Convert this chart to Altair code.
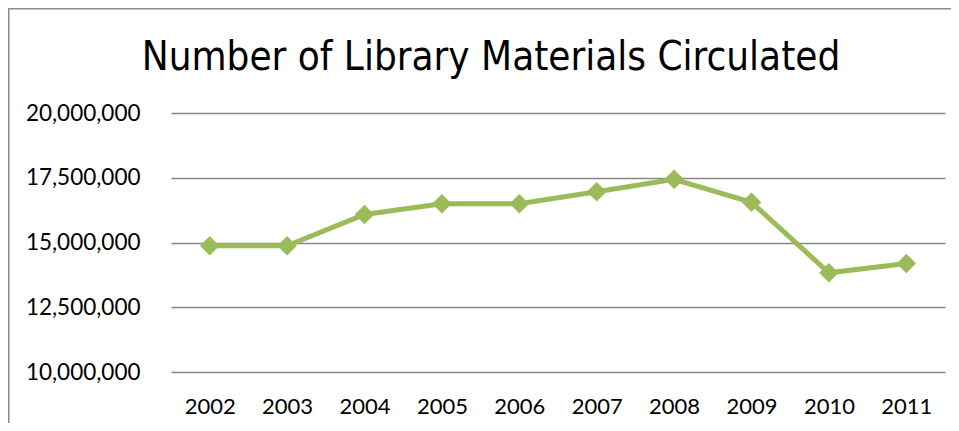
import altair as alt
import pandas as pd

years = ["2002", "2003", "2004", "2005", "2006", "2007", "2008", "2009", "2010", "2011"]
circulated = [14870000, 14870000, 16080000, 16500000, 16500000, 16960000, 17440000, 16550000, 13830000, 14190000]
y_ticks = [10000000, 12500000, 15000000, 17500000, 20000000]
title_text = "Number of Library Materials Circulated"

df = pd.DataFrame({"year": years, "value": circulated})
frame_df = pd.DataFrame({"k": [0]})
title_df = pd.DataFrame({"t": [title_text]})

W, H = 774, 259
PAD = {"left": 163, "top": 105, "right": 6, "bottom": 51}

x_enc = alt.X("year:N", sort=years,
              scale=alt.Scale(paddingInner=0, paddingOuter=0),
              axis=alt.Axis(title=None, labelAngle=0, ticks=False, domain=False,
                            labelPadding=24, labelFontSize=22, labelFont="Lato",
                            labelColor="#000000"))
y_enc = alt.Y("value:Q",
              scale=alt.Scale(domain=[10000000, 20000000], nice=False, zero=False),
              axis=alt.Axis(title=None, values=y_ticks, format=",.0f", ticks=False, domain=False,
                            labelPadding=31, labelFontSize=22.5, labelFont="Lato",
                            labelColor="#000000", grid=True, gridColor="#878787",
                            gridWidth=1.5))

line = alt.Chart(df).mark_line(color="#9BBB59", strokeWidth=5).encode(x=x_enc, y=y_enc)
pts = alt.Chart(df).mark_point(shape="diamond", filled=True, size=380, color="#9BBB59",
                               opacity=1).encode(x=x_enc, y=y_enc)

left_frame = alt.Chart(frame_df).mark_rule(color="#8a8a8a", strokeWidth=2).encode(
    x=alt.value(-162.5), y=alt.value(-106), y2=alt.value(H + PAD["bottom"]))
top_frame = alt.Chart(frame_df).mark_rule(color="#8a8a8a", strokeWidth=2).encode(
    x=alt.value(-163.5), x2=alt.value(W + PAD["right"]), y=alt.value(-104.5))

title_mark = alt.Chart(title_df).mark_text(
    font="DejaVu Sans Condensed", fontSize=40, color="#000000",
    align="center", baseline="alphabetic").encode(
    text="t:N", x=alt.value(320), y=alt.value(-43))

chart = alt.layer(line, pts, left_frame, top_frame, title_mark).properties(
    width=W, height=H, padding=PAD,
    autosize=alt.AutoSizeParams(type="none"),
).configure(background="#ffffff").configure_view(stroke="transparent", strokeWidth=0)

chart.save("out.html", embed_options={"renderer": "svg", "actions": False})
